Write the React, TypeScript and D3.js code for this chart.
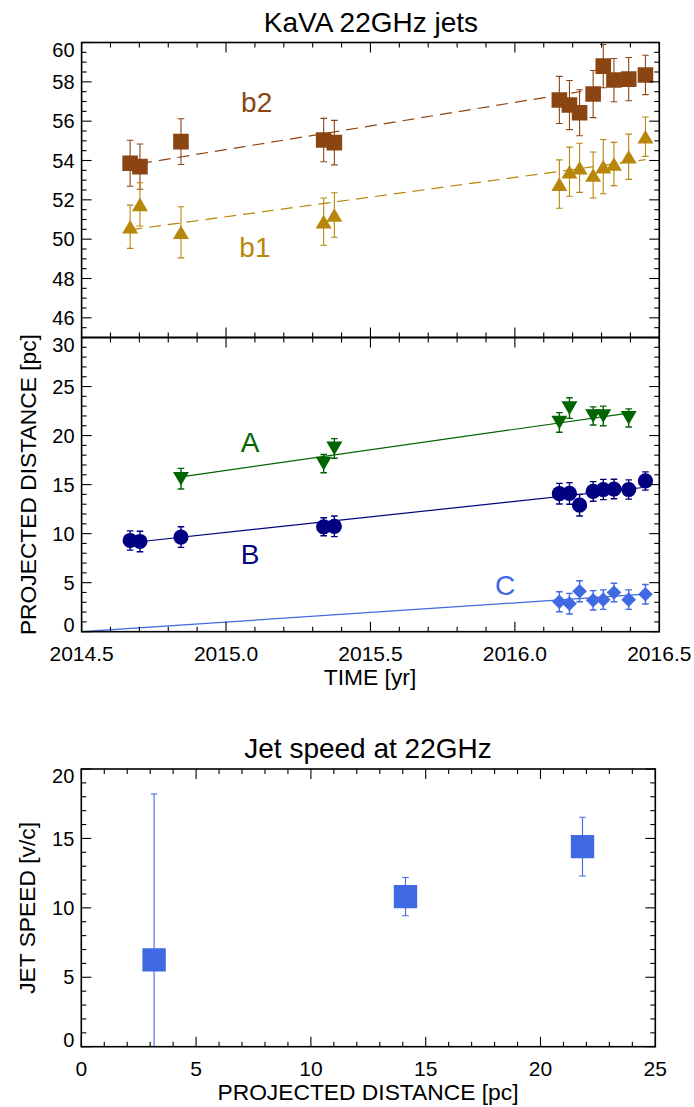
import React from 'react';
import * as d3 from 'd3';

// ---------- DATA ----------
const epochs = [2014.668, 2014.702, 2014.844, 2015.338, 2015.375, 2016.154, 2016.189, 2016.224, 2016.271, 2016.306, 2016.343, 2016.394, 2016.452];

const b2Pos = [53.86, 53.69, 54.96, 55.04, 54.91, 57.08, 56.82, 56.43, 57.38, 58.8, 58.09, 58.14, 58.35];
const b2Err = [1.17, 1.15, 1.16, 1.1, 1.13, 1.2, 1.25, 1.17, 1.2, 1.1, 1.1, 1.1, 1.0];
const b1Pos = [50.63, 51.77, 50.35, 50.89, 51.23, 52.8, 53.43, 53.63, 53.26, 53.69, 53.82, 54.19, 55.21];
const b1Err = [1.1, 1.1, 1.3, 1.2, 1.13, 1.23, 1.25, 1.25, 1.17, 1.38, 1.1, 1.15, 1.0];

const aEpochs = [2014.844, 2015.338, 2015.375, 2016.154, 2016.189, 2016.271, 2016.306, 2016.394];
const aPos = [15.6, 17.14, 18.69, 21.34, 22.8, 22.0, 22.0, 21.8];
const aErr = [1.05, 0.93, 1.0, 1.0, 1.05, 0.93, 1.0, 0.92];

const bPos = [9.3, 9.2, 9.65, 10.7, 10.75, 14.07, 14.1, 12.9, 14.3, 14.5, 14.55, 14.5, 15.37];
const bErr = [0.98, 1.05, 1.05, 0.92, 1.05, 1.05, 1.1, 1.1, 1.0, 1.03, 1.0, 0.98, 0.93];

const cEpochs = [2016.154, 2016.189, 2016.224, 2016.271, 2016.306, 2016.343, 2016.394, 2016.452];
const cPos = [3.06, 2.86, 4.13, 3.2, 3.27, 4.0, 3.27, 3.82];
const cErr = [1.02, 1.05, 1.07, 0.99, 0.99, 0.94, 0.99, 1.0];

// linear fits: [slope (pc/yr), value at fitRef, tStart, tEnd]
const fitRef = 2015.535;
const b2Fit = [2.4, 55.84, 2014.702, 2016.23];
const b1Fit = [2.0, 52.21, 2014.668, 2016.452];
const aFit = [4.2, 18.69, 2014.844, 2016.394];
const bFit = [3.17, 11.82, 2014.668, 2016.452];
const cFit = [1.96, 2.03, 2014.5, 2016.452];

// jet speed panel
const jetDist = [3.17, 14.12, 21.83];
const jetSpeed = [6.25, 10.81, 14.41];
const jetSpeedErr = [11.95, 1.38, 2.12];

// ticks
const timeTicks = [2014.5, 2015.0, 2015.5, 2016.0, 2016.5];
const topYTicks = [46, 48, 50, 52, 54, 56, 58, 60];
const midYTicks = [0, 5, 10, 15, 20, 25, 30];
const botXTicks = [0, 5, 10, 15, 20, 25];
const botYTicks = [0, 5, 10, 15, 20];

// ---------- STYLE ----------
const FONT = "'Liberation Sans', Arial, Helvetica, sans-serif";
const COL_B2 = '#8B4513';
const COL_B1 = '#B8860B';
const COL_A = '#006400';
const COL_B = '#000080';
const COL_C = '#4169E1';
const TICK_FS = 20;
const XTICK_FS = 21;
const TITLE_FS = 28;
const AXT_FS = 22.8;
const LAB_FS = 28;

function rng(a: number, b: number, s: number) {
  const out: number[] = [];
  for (let v = a; v <= b + s * 1e-6; v += s) out.push(+v.toFixed(6));
  return out;
}

function Frame({ xs, ys, xMaj, xMin, yMaj, yMin }: any) {
  const [x0, x1] = xs.range();
  const [yb, yt] = ys.range();
  const MJ = 10, MN = 5;
  const ticks: any[] = [];
  const isMaj = (v: number, arr: number[]) => arr.some((m) => Math.abs(m - v) < 1e-6);
  xMin.forEach((v: number, i: number) => {
    const L = isMaj(v, xMaj) ? MJ : MN;
    const x = xs(v);
    ticks.push(<line key={'xb' + i} x1={x} x2={x} y1={yb} y2={yb - L} />);
    ticks.push(<line key={'xt' + i} x1={x} x2={x} y1={yt} y2={yt + L} />);
  });
  yMin.forEach((v: number, i: number) => {
    const L = isMaj(v, yMaj) ? MJ : MN;
    const y = ys(v);
    ticks.push(<line key={'yl' + i} x1={x0} x2={x0 + L} y1={y} y2={y} />);
    ticks.push(<line key={'yr' + i} x1={x1} x2={x1 - L} y1={y} y2={y} />);
  });
  return (
    <g stroke="#000" fill="none">
      <g strokeWidth={1.1}>{ticks}</g>
      <rect x={x0} y={yt} width={x1 - x0} height={yb - yt} strokeWidth={1.6} />
    </g>
  );
}

function YLabels({ xs, ys, vals, fmt }: any) {
  const [x0] = xs.range();
  const [yb, yt] = ys.range();
  return (
    <g fontFamily={FONT} fontSize={TICK_FS} fill="#000" textAnchor="end">
      {vals.map((v: number, i: number) => {
        let y = ys(v);
        let dy = '0.36em';
        if (Math.abs(y - yt) < 1) dy = '0.72em';
        else if (Math.abs(y - yb) < 1) dy = '0em';
        return (
          <text key={i} x={x0 - 7} y={y} dy={dy}>
            {fmt ? fmt(v) : String(v)}
          </text>
        );
      })}
    </g>
  );
}

function XLabels({ xs, ys, vals, fmt }: any) {
  const [yb] = ys.range();
  return (
    <g fontFamily={FONT} fontSize={XTICK_FS} fill="#000" textAnchor="middle">
      {vals.map((v: number, i: number) => (
        <text key={i} x={xs(v)} y={yb + 22} dy="0.36em">
          {fmt ? fmt(v) : String(v)}
        </text>
      ))}
    </g>
  );
}

function marker(shape: string, x: number, y: number, s: number) {
  switch (shape) {
    case 'square':
      return `M${x - s},${y - s}H${x + s}V${y + s}H${x - s}Z`;
    case 'tup':
      return `M${x},${y - s * 0.85}L${x + s},${y + s * 0.85}L${x - s},${y + s * 0.85}Z`;
    case 'tdown':
      return `M${x},${y + s * 0.85}L${x + s},${y - s * 0.85}L${x - s},${y - s * 0.85}Z`;
    case 'diamond':
      return `M${x},${y - s}L${x + s},${y}L${x},${y + s}L${x - s},${y}Z`;
    default:
      return `M${x - s},${y}A${s},${s} 0 1,0 ${x + s},${y}A${s},${s} 0 1,0 ${x - s},${y}Z`;
  }
}

function Series({ xs, ys, ts, vs, es, color, shape, size, cap, barW }: any) {
  return (
    <g>
      <g stroke={color} strokeWidth={barW || 1.1} fill="none">
        {ts.map((t: number, i: number) => {
          const x = xs(t);
          const y1 = ys(vs[i] + es[i]);
          const y2 = ys(vs[i] - es[i]);
          return (
            <g key={i}>
              <line x1={x} x2={x} y1={y1} y2={y2} />
              <line x1={x - cap} x2={x + cap} y1={y1} y2={y1} />
              <line x1={x - cap} x2={x + cap} y1={y2} y2={y2} />
            </g>
          );
        })}
      </g>
      <g fill={color} stroke="none">
        {ts.map((t: number, i: number) => (
          <path key={i} d={marker(shape, xs(t), ys(vs[i]), size)} />
        ))}
      </g>
    </g>
  );
}

function FitLine({ xs, ys, fit, color, dashed }: any) {
  const [slope, v0, t0, t1] = fit;
  const pts = [t0, t1].map((t) => [t, v0 + slope * (t - fitRef)]);
  const line = d3
    .line<number[]>()
    .x((d) => xs(d[0]))
    .y((d) => ys(d[1]));
  return (
    <path
      d={line(pts) || ''}
      stroke={color}
      strokeWidth={1.2}
      fill="none"
      strokeDasharray={dashed ? '12,7' : undefined}
    />
  );
}

export default function App() {
  const xT = d3.scaleLinear().domain([2014.5, 2016.5]).range([81.6, 659.3]);
  const yTop = d3.scaleLinear().domain([45, 60]).range([337.5, 42.5]);
  const yMid = d3.scaleLinear().domain([0, 30]).range([631.7, 337.5]);
  const xB = d3.scaleLinear().domain([0, 25]).range([81.3, 655.3]);
  const yB = d3.scaleLinear().domain([0, 20]).range([1046.7, 769]);

  const timeMinor = rng(2014.5, 2016.5, 0.1);

  return (
    <svg
      width={694}
      height={1107}
      style={{ position: 'absolute', left: 0, top: 0, background: '#fff' }}
    >
      <defs>
        <clipPath id="clipTop">
          <rect x={81.6} y={42.5} width={659.3 - 81.6} height={337.5 - 42.5} />
        </clipPath>
        <clipPath id="clipMid">
          <rect x={81.6} y={337.5} width={659.3 - 81.6} height={631.7 - 337.5} />
        </clipPath>
        <clipPath id="clipBot">
          <rect x={81.3} y={769} width={655.3 - 81.3} height={1046.7 - 769} />
        </clipPath>
      </defs>
      <rect x={0} y={0} width={694} height={1107} fill="#fff" />

      {/* Titles */}
      <text x={371} y={32} textAnchor="middle" fontFamily={FONT} fontSize={TITLE_FS}>
        KaVA 22GHz jets
      </text>
      <text x={368} y={758} textAnchor="middle" fontFamily={FONT} fontSize={TITLE_FS}>
        Jet speed at 22GHz
      </text>

      {/* Top panel */}
      <g clipPath="url(#clipTop)">
        <FitLine xs={xT} ys={yTop} fit={b2Fit} color={COL_B2} dashed />
        <FitLine xs={xT} ys={yTop} fit={b1Fit} color={COL_B1} dashed />
        <Series xs={xT} ys={yTop} ts={epochs} vs={b2Pos} es={b2Err} color={COL_B2} shape="square" size={7.8} cap={3.3} />
        <Series xs={xT} ys={yTop} ts={epochs} vs={b1Pos} es={b1Err} color={COL_B1} shape="tup" size={8} cap={3.3} />
      </g>
      <Frame xs={xT} ys={yTop} xMaj={timeTicks} xMin={timeMinor} yMaj={topYTicks} yMin={rng(45, 60, 0.5)} />
      <YLabels xs={xT} ys={yTop} vals={topYTicks} />
      <text x={xT(2015.106)} y={yTop(56.99)} dy="0.36em" textAnchor="middle" fontFamily={FONT} fontSize={LAB_FS} fill={COL_B2}>b2</text>
      <text x={xT(2015.1)} y={yTop(49.62)} dy="0.36em" textAnchor="middle" fontFamily={FONT} fontSize={LAB_FS} fill={COL_B1}>b1</text>

      {/* Middle panel */}
      <g clipPath="url(#clipMid)">
        <FitLine xs={xT} ys={yMid} fit={aFit} color={COL_A} />
        <FitLine xs={xT} ys={yMid} fit={bFit} color={COL_B} />
        <FitLine xs={xT} ys={yMid} fit={cFit} color={COL_C} />
        <Series xs={xT} ys={yMid} ts={aEpochs} vs={aPos} es={aErr} color={COL_A} shape="tdown" size={8} cap={3.3} barW={1.4} />
        <Series xs={xT} ys={yMid} ts={epochs} vs={bPos} es={bErr} color={COL_B} shape="circle" size={7.6} cap={3.3} barW={1.4} />
        <Series xs={xT} ys={yMid} ts={cEpochs} vs={cPos} es={cErr} color={COL_C} shape="diamond" size={7.3} cap={3.3} barW={1.4} />
      </g>
      <Frame xs={xT} ys={yMid} xMaj={timeTicks} xMin={timeMinor} yMaj={midYTicks} yMin={rng(0, 30, 1)} />
      <YLabels xs={xT} ys={yMid} vals={midYTicks} />
      <XLabels xs={xT} ys={yMid} vals={timeTicks} fmt={d3.format('.1f')} />
      <text x={xT(2015.083)} y={yMid(19.31)} dy="0.36em" textAnchor="middle" fontFamily={FONT} fontSize={LAB_FS} fill={COL_A}>A</text>
      <text x={xT(2015.083)} y={yMid(7.92)} dy="0.36em" textAnchor="middle" fontFamily={FONT} fontSize={LAB_FS} fill={COL_B}>B</text>
      <text x={xT(2015.966)} y={yMid(4.76)} dy="0.36em" textAnchor="middle" fontFamily={FONT} fontSize={LAB_FS} fill={COL_C}>C</text>
      <text x={370} y={677} dy="0.36em" textAnchor="middle" fontFamily={FONT} fontSize={AXT_FS}>TIME [yr]</text>
      <text
        transform={`translate(28,${(337.5 + 631.7) / 2}) rotate(-90)`}
        dy="0.36em"
        textAnchor="middle"
        fontFamily={FONT}
        fontSize={AXT_FS}
      >
        PROJECTED DISTANCE [pc]
      </text>

      {/* Bottom panel */}
      <g clipPath="url(#clipBot)">
        <Series xs={xB} ys={yB} ts={jetDist} vs={jetSpeed} es={jetSpeedErr} color={COL_C} shape="square" size={11.7} cap={3.3} />
      </g>
      <Frame xs={xB} ys={yB} xMaj={botXTicks} xMin={rng(0, 25, 1)} yMaj={botYTicks} yMin={rng(0, 20, 1)} />
      <YLabels xs={xB} ys={yB} vals={botYTicks} />
      <XLabels xs={xB} ys={yB} vals={botXTicks} />
      <text x={368} y={1092} dy="0.36em" textAnchor="middle" fontFamily={FONT} fontSize={AXT_FS}>PROJECTED DISTANCE [pc]</text>
      <text
        transform={`translate(27,${(769 + 1046.7) / 2}) rotate(-90)`}
        dy="0.36em"
        textAnchor="middle"
        fontFamily={FONT}
        fontSize={AXT_FS}
      >
        JET SPEED [v/c]
      </text>
    </svg>
  );
}
